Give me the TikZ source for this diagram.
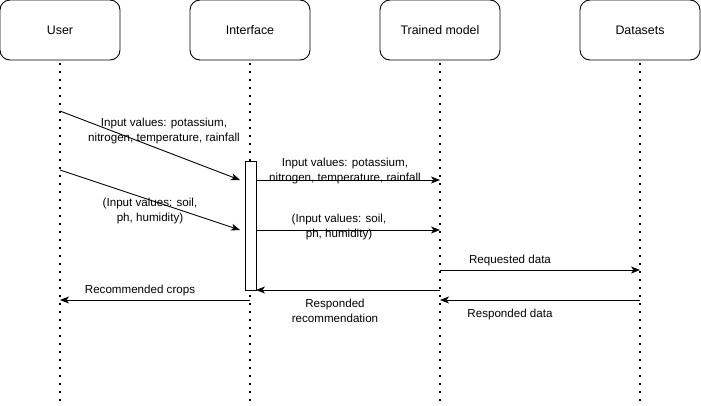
\documentclass[tikz,border=0pt]{standalone}
\usepackage{fontspec}
\setmainfont{Liberation Sans}
\usetikzlibrary{arrows.meta}
\begin{document}
\begin{tikzpicture}[x=1pt,y=-1pt,
  actor/.style={draw, rounded corners=10pt, line width=0.9pt, minimum width=120pt, minimum height=60pt, inner sep=0pt, font=\fontsize{12.4}{14}\selectfont},
  lifeline/.style={line width=1.3pt, dash pattern=on 1.2pt off 6.8pt},
  msg/.style={line width=0.9pt, -{Stealth[length=9pt,width=7pt,inset=2.5pt]}},
  lbl/.style={align=center, inner sep=0pt, font=\fontsize{11.6}{15}\selectfont},
  actbox/.style={draw, fill=white, line width=0.9pt, minimum width=11pt, minimum height=129pt, inner sep=0pt}]
\useasboundingbox (0,0) rectangle (701,405);
\node[actor] (user) at (60,30) {User};
\node[actor] (iface) at (250,30) {Interface};
\node[actor] (model) at (440,30) {Trained model};
\node[actor] (data) at (640,30) {Datasets};
\coordinate (userB) at (60,405);
\coordinate (ifaceB) at (250,405);
\coordinate (modelB) at (440,405);
\coordinate (dataB) at (640,405);
\draw[lifeline] (user.south) ++(0,3) -- (userB);
\draw[lifeline] (iface.south) ++(0,3) -- (ifaceB);
\draw[lifeline] (model.south) ++(0,3) -- (modelB);
\draw[lifeline] (data.south) ++(0,3) -- (dataB);
\node[actbox] (act) at (250.5,225.5) {};
% coordinates for messages
\coordinate (u1) at (60,111);
\coordinate (a1) at (240,180);
\coordinate (u2) at (60,170);
\coordinate (a2) at (240,230);
\coordinate (a3) at (256,180);
\coordinate (m3) at (440,180);
\coordinate (a4) at (256,230);
\coordinate (m4) at (440,230);
\coordinate (m5) at (440,270);
\coordinate (d5) at (640,270);
\coordinate (m6) at (440,290);
\coordinate (a6) at (256,290);
\coordinate (d7) at (640,300);
\coordinate (m7) at (440,300);
\coordinate (i8) at (250,300);
\coordinate (u8) at (60,300);
\draw[msg] (u1) -- (a1);
\draw[msg] (u2) -- (a2);
\draw[msg] (a3) -- (m3);
\draw[msg] (a4) -- (m4);
\draw[msg] (m5) -- (d5);
\draw[msg] (m6) -- (a6);
\draw[msg] (d7) -- (m7);
\draw[msg] (i8) -- (u8);
\node[lbl] (l1) at (164,131) {Input values: potassium,\\nitrogen, temperature, rainfall};
\node[lbl] (l2) at (150,211) {(Input values: soil,\\ph, humidity)};
\node[lbl] (l3) at (345,171) {Input values: potassium,\\nitrogen, temperature, rainfall};
\node[lbl] (l4) at (339,226.5) {(Input values: soil,\\ph, humidity)};
\node[lbl] (l5) at (510,260.5) {Requested data};
\node[lbl] (l6) at (335,310.5) {Responded\\recommendation};
\node[lbl] (l7) at (510,314.5) {Responded data};
\node[lbl] (l8) at (140,290.5) {Recommended crops};
\end{tikzpicture}
\end{document}
